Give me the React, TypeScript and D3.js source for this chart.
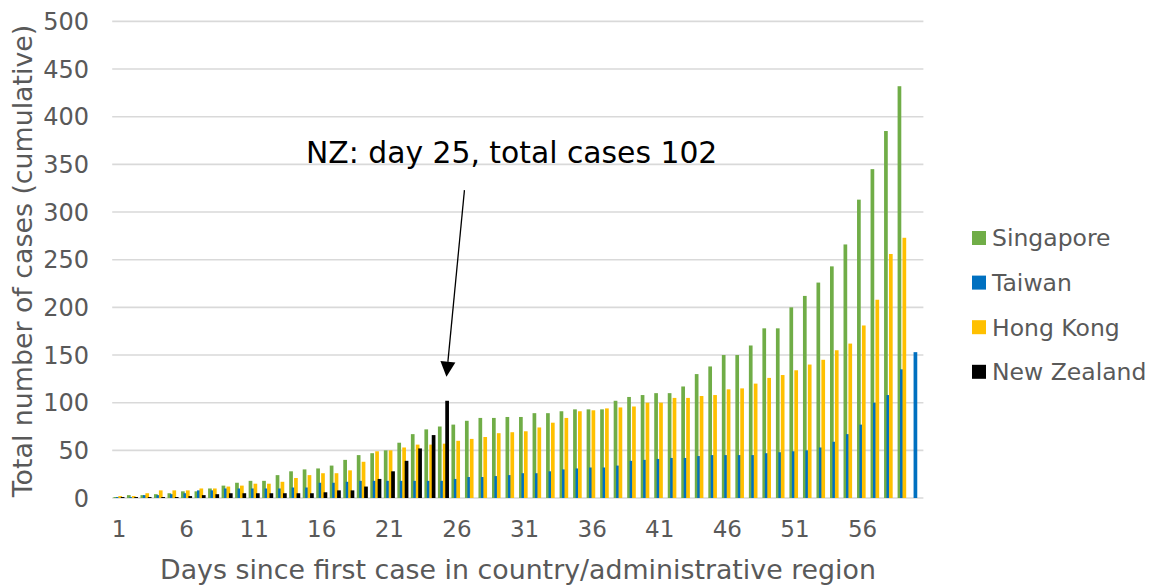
import React from 'react';
import * as d3 from 'd3';

const singapore = [1, 3, 3, 4, 5, 7, 7, 10, 13, 16, 18, 18, 24, 28, 30, 31, 34, 40, 45, 47, 50, 58, 67, 72, 75, 77, 81, 84, 84, 85, 85, 89, 89, 91, 93, 93, 93, 102, 106, 108, 110, 110, 117, 130, 138, 150, 150, 160, 178, 178, 200, 212, 226, 243, 266, 313, 345, 385, 432];
const taiwan = [1, 1, 3, 3, 4, 5, 8, 8, 10, 10, 10, 10, 10, 11, 11, 16, 16, 17, 18, 18, 18, 18, 18, 18, 18, 20, 22, 22, 23, 24, 26, 26, 28, 30, 31, 32, 32, 34, 39, 40, 41, 42, 42, 44, 45, 45, 45, 45, 47, 48, 49, 50, 53, 59, 67, 77, 100, 108, 135, 153];
const hongKong = [2, 2, 5, 8, 8, 8, 10, 10, 12, 13, 15, 15, 17, 21, 24, 26, 26, 29, 38, 49, 50, 53, 56, 56, 57, 60, 62, 64, 68, 69, 70, 74, 79, 84, 91, 92, 94, 95, 96, 100, 100, 105, 105, 107, 108, 114, 115, 120, 126, 129, 134, 140, 145, 155, 162, 181, 208, 256, 273];
const newZealand = [1, 1, 1, 1, 1, 2, 3, 4, 5, 5, 5, 5, 5, 5, 5, 6, 8, 8, 12, 20, 28, 39, 52, 66, 102];

const seriesNames = ['Singapore', 'Taiwan', 'Hong Kong', 'New Zealand'];
const seriesColors = ['#70AD47', '#0070C0', '#FFC000', '#000000'];
const yTicks = [0, 50, 100, 150, 200, 250, 300, 350, 400, 450, 500];
const xTickLabels = [1, 6, 11, 16, 21, 26, 31, 36, 41, 46, 51, 56];
const days = taiwan.map((_, i) => i + 1);

const annotationText = 'NZ: day 25, total cases 102';
const annotationDay = 25;
const annotationValue = 102;

const FONT = "'DejaVu Sans', Verdana, sans-serif";
const GREY = '#595959';

export default function App() {
  const W = 1156;
  const H = 586;
  const x = d3.scaleBand<number>().domain(days).range([112.2, 923.4]).padding(0);
  const y = d3.scaleLinear().domain([0, 500]).range([498, 21.4]);
  const series = [singapore, taiwan, hongKong, newZealand];
  const bw = x.bandwidth();
  const barW = 3.7;
  const barStep = 2.45;
  const groupW = barStep * 3 + barW;
  const cx = (d: number) => (x(d) as number) + bw / 2;

  // annotation arrow
  const tipX = cx(annotationDay) + 3;
  const tipY = y(annotationValue) - 24;
  const startX = cx(annotationDay) + 21;
  const startY = y(323);
  const dx = tipX - startX;
  const dy = tipY - startY;
  const len = Math.sqrt(dx * dx + dy * dy);
  const ux = dx / len;
  const uy = dy / len;
  const headL = 15;
  const headW = 7.5;
  const bx = tipX - headL * ux;
  const by = tipY - headL * uy;
  const px = -uy;
  const py = ux;

  return (
    <svg width={W} height={H} style={{ position: 'absolute', left: 0, top: 0, background: '#fff' }}>
      <rect x={0} y={0} width={W} height={H} fill="#fff" />
      {yTicks.map((t) => (
        <g key={t}>
          <line x1={112.2} x2={923.4} y1={y(t)} y2={y(t)} stroke="#d9d9d9" strokeWidth={1.6} />
          <text x={89} y={y(t)} dy="0.36em" textAnchor="end" fontFamily={FONT} fontSize={24} fill={GREY}>
            {t}
          </text>
        </g>
      ))}
      {series.map((vals, si) =>
        vals.map((v, i) => {
          const d = days[i];
          const left = cx(d) - groupW / 2 + si * barStep;
          return (
            <rect
              key={`${si}-${i}`}
              x={left}
              y={y(v)}
              width={barW}
              height={y(0) - y(v)}
              fill={seriesColors[si]}
            />
          );
        })
      )}
      {xTickLabels.map((d) => (
        <text key={d} x={cx(d)} y={537} textAnchor="middle" fontFamily={FONT} fontSize={23} fill={GREY}>
          {d}
        </text>
      ))}
      <text x={518} y={579} textAnchor="middle" fontFamily={FONT} fontSize={26.8} fill={GREY}>
        Days since first case in country/administrative region
      </text>
      <text
        transform={`translate(32, 261) rotate(-90)`}
        textAnchor="middle"
        fontFamily={FONT}
        fontSize={26.8}
        fill={GREY}
      >
        Total number of cases (cumulative)
      </text>
      {seriesNames.map((name, i) => (
        <g key={name} transform={`translate(972, ${231 + i * 44.6})`}>
          <rect x={0} y={0} width={14} height={14} fill={seriesColors[i]} />
          <text x={20} y={7} dy="0.36em" fontFamily={FONT} fontSize={23.5} fill={GREY}>
            {name}
          </text>
        </g>
      ))}
      <text x={306} y={163} fontFamily={FONT} fontSize={29.8} fill="#000">
        {annotationText}
      </text>
      <line x1={startX} y1={startY} x2={bx} y2={by} stroke="#000" strokeWidth={1.3} />
      <polygon
        points={`${tipX},${tipY} ${bx + px * headW},${by + py * headW} ${bx - px * headW},${by - py * headW}`}
        fill="#000"
      />
    </svg>
  );
}
